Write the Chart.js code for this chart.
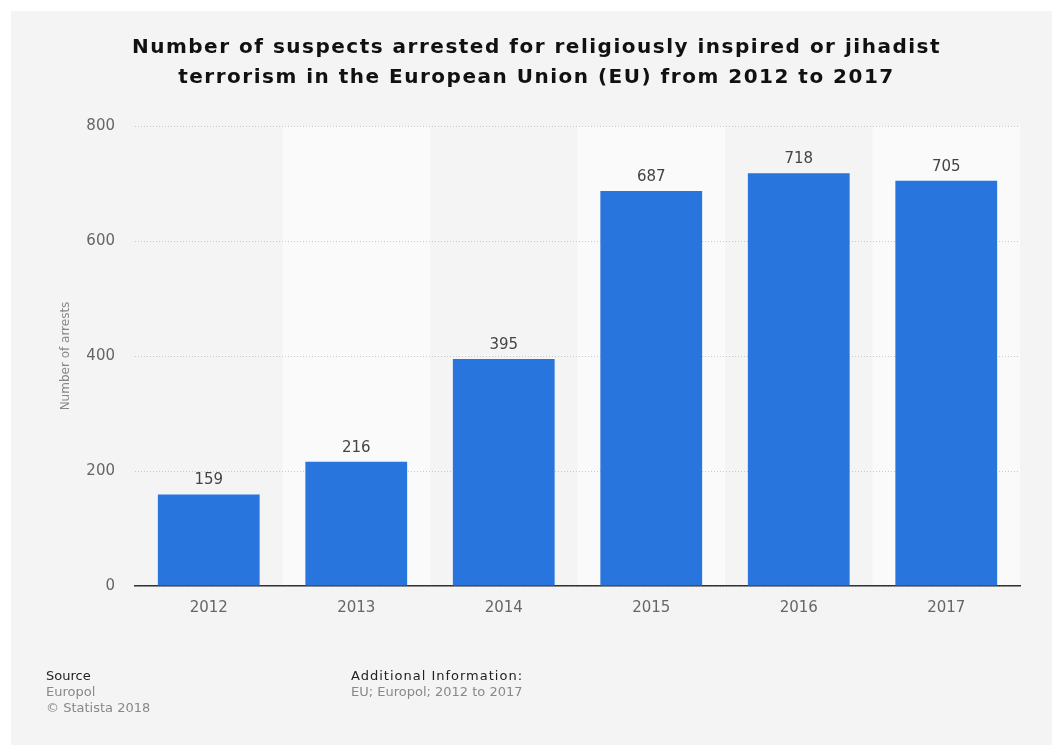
<!DOCTYPE html>
<html>
<head>
<meta charset="utf-8">
<script src="https://cdn.jsdelivr.net/npm/chart.js@4/dist/chart.umd.min.js"></script>
<style>
  html, body { margin: 0; padding: 0; background: #ffffff; overflow: hidden; }
  #panel { position: fixed; left: 11px; top: 11px; right: 0; bottom: 0; background: #f4f4f4; }
  #wrap { position: relative; width: 1052px; height: 745px; overflow: hidden; }
  #c { position: absolute; left: 0; top: 0; }
  #title { position: absolute; left: 21px; top: 31px; width: 1031px; text-align: center;
           font-family: "DejaVu Sans", sans-serif; font-weight: bold; font-size: 20px;
           line-height: 30px; letter-spacing: 1.5px; color: #111; white-space: nowrap; }
  .ft { position: absolute; font-family: "DejaVu Sans", sans-serif; white-space: nowrap; }
  .ft .h { font-size: 13px; color: #222; line-height: 16px; }
  .ft .t { font-size: 13px; color: #888; line-height: 15.5px; }
</style>
</head>
<body>
<div id="panel"></div>
<div id="wrap">
  <canvas id="c" width="1052" height="745"></canvas>
  <div id="title"></div>
  <div class="ft" style="left:46px; top:668px;">
    <div class="h">Source</div>
    <div class="t">Europol</div>
    <div class="t">© Statista 2018</div>
  </div>
  <div class="ft" style="left:351px; top:668px;">
    <div class="h" style="letter-spacing:1px;">Additional Information:</div>
    <div class="t">EU; Europol; 2012 to 2017</div>
  </div>
</div>
<script>
const categories = ["2012", "2013", "2014", "2015", "2016", "2017"];
const arrests = [159, 216, 395, 687, 718, 705];
const titleLines = [
  "Number of suspects arrested for religiously inspired or jihadist",
  "terrorism in the European Union (EU) from 2012 to 2017"
];
const yAxisTitle = "Number of arrests";

const FONT = '"DejaVu Sans", sans-serif';

const titleEl = document.getElementById('title');
titleLines.forEach((line, i) => {
  if (i) titleEl.appendChild(document.createElement('br'));
  titleEl.appendChild(document.createTextNode(line));
});

const panelAndBands = {
  id: 'panelAndBands',
  beforeDraw(chart) {
    const ctx = chart.ctx;
    const area = chart.chartArea;
    const x = chart.scales.x;
    ctx.save();
    ctx.fillStyle = '#f4f4f4';
    ctx.fillRect(11, 11, chart.width, chart.height);
    const n = categories.length;
    const step = (area.right - area.left) / n;
    for (let i = 0; i < n; i++) {
      if (i % 2 === 1) {
        const cx = x.getPixelForValue(i);
        ctx.fillStyle = '#fafafa';
        ctx.fillRect(cx - step / 2, area.top, step, area.bottom - area.top);
      }
    }
    ctx.restore();
  }
};

const valueLabels = {
  id: 'valueLabels',
  afterDatasetsDraw(chart) {
    const ctx = chart.ctx;
    const meta = chart.getDatasetMeta(0);
    ctx.save();
    ctx.font = '15px ' + FONT;
    ctx.fillStyle = '#444';
    ctx.textAlign = 'center';
    ctx.textBaseline = 'middle';
    meta.data.forEach((bar, i) => {
      ctx.fillText(String(arrests[i]), bar.x, bar.y - 14);
    });
    ctx.restore();
  }
};

new Chart(document.getElementById('c'), {
  type: 'bar',
  data: {
    labels: categories,
    datasets: [{
      data: arrests,
      backgroundColor: '#2876dd',
      borderWidth: 0,
      categoryPercentage: 1,
      barPercentage: 0.69
    }]
  },
  options: {
    responsive: false,
    animation: false,
    layout: { padding: { left: 50, right: 32, top: 126, bottom: 119 } },
    plugins: {
      legend: { display: false },
      tooltip: { enabled: false },
      title: { display: false }
    },
    scales: {
      x: {
        grid: { display: false },
        border: { display: true, color: '#333', width: 1.5 },
        ticks: { color: '#666', font: { family: FONT, size: 15 }, padding: 5 },
        afterFit(s) { s.height = 40; }
      },
      y: {
        min: 0, max: 800,
        ticks: { stepSize: 200, color: '#666', font: { family: FONT, size: 15 }, padding: 20 },
        grid: { color: '#c8c8c8', lineWidth: 1, drawTicks: false },
        border: { display: false, dash: [1, 2] },
        title: { display: true, text: yAxisTitle, color: '#888', font: { family: FONT, size: 12 }, padding: { top: 9, bottom: 0 } },
        afterFit(s) { s.width = 85; }
      }
    }
  },
  plugins: [panelAndBands, valueLabels]
});
</script>
</body>
</html>
